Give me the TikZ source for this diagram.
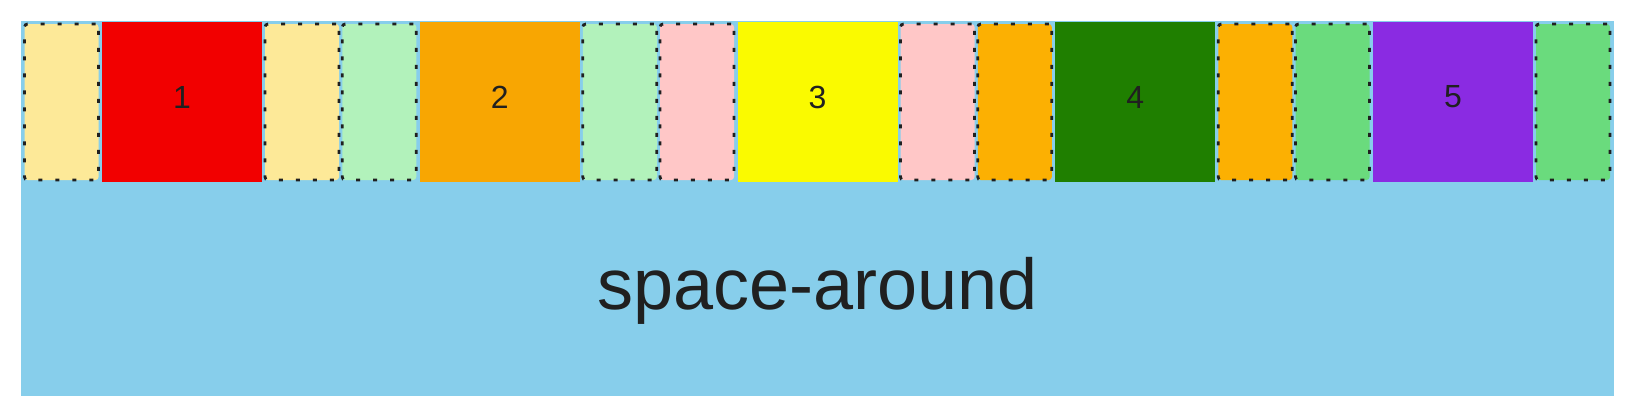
\documentclass[tikz,border=0pt]{standalone}
\usepackage{fontspec}
\setmainfont{Liberation Sans}
\definecolor{sky}{HTML}{87CEEB}
\definecolor{mA}{HTML}{FDE998}
\definecolor{cA}{HTML}{F20000}
\definecolor{mB}{HTML}{B2F2BB}
\definecolor{cB}{HTML}{F8A602}
\definecolor{mC}{HTML}{FFC7C7}
\definecolor{cC}{HTML}{FAFA00}
\definecolor{mD}{HTML}{FCB002}
\definecolor{cD}{HTML}{1F7F00}
\definecolor{mE}{HTML}{6ADB7D}
\definecolor{cE}{HTML}{8A2BE2}
\definecolor{ink}{HTML}{202020}
\begin{document}
\begin{tikzpicture}[x=1pt,y=-1pt,
  container/.style={fill=sky, draw=none, minimum width=1593pt, minimum height=375pt, inner sep=0pt, anchor=north west},
  itembox/.style={draw=none, minimum width=160pt, minimum height=160pt, inner sep=0pt},
  numlabel/.style={font=\fontsize{32}{32}\selectfont, text=ink, yshift=5pt},
  marginbox/.style={draw=ink, line width=2.8pt, dash pattern=on 4pt off 13pt, rounded corners=3pt, minimum width=74pt, minimum height=156pt, inner sep=0pt},
  bigtext/.style={font=\fontsize{72}{72}\selectfont, text=ink, anchor=base}]
\useasboundingbox (0,0) rectangle (1636,416);
\node[container] (cont) at (21,21) {};
\foreach \i/\m/\c in {1/mA/cA, 2/mB/cB, 3/mC/cC, 4/mD/cD, 5/mE/cE}{
  \pgfmathsetmacro{\s}{23+317.75*(\i-1)}
  \node[marginbox, fill=\m] (ml\i) at (\s+38.5,102) {};
  \node[itembox, fill=\c, label={[numlabel]center:\i}] (it\i) at (\s+159,102) {};
  \node[marginbox, fill=\m] (mr\i) at (\s+279,102) {};
}
\node[bigtext] (title) at (817.5,309) {space-around};
\end{tikzpicture}
\end{document}
